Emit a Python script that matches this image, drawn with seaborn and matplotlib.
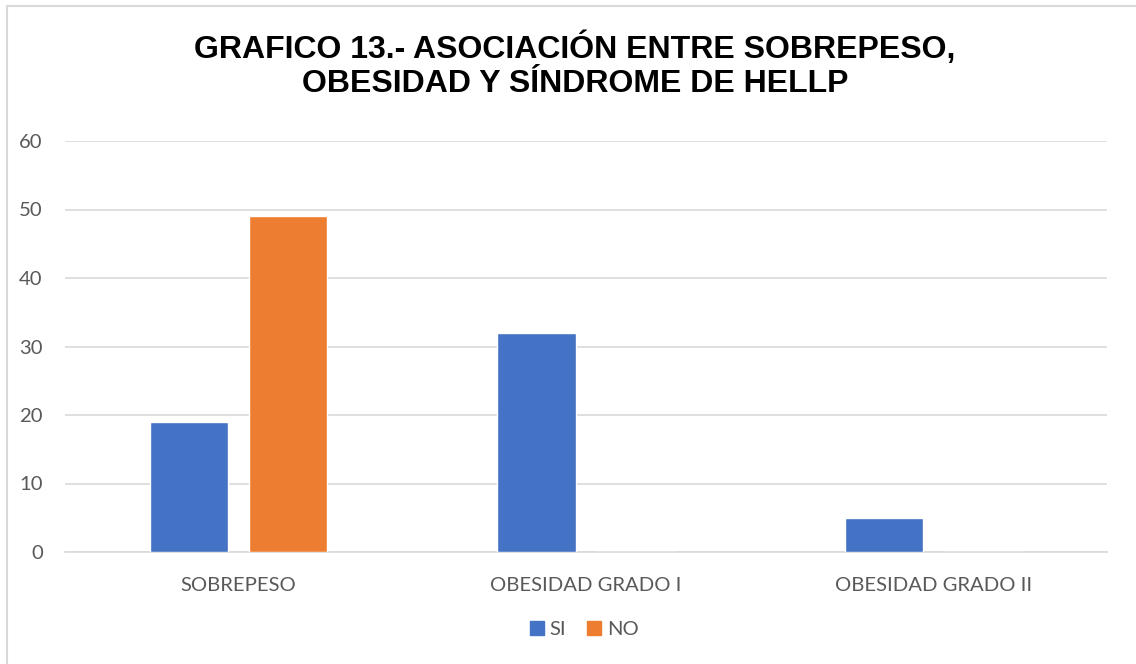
import matplotlib
matplotlib.use("Agg")
import matplotlib.pyplot as plt
import seaborn as sns
import pandas as pd
from matplotlib.lines import Line2D

categories = ["SOBREPESO", "OBESIDAD GRADO I", "OBESIDAD GRADO II"]
series_names = ["SI", "NO"]
si_values = [19, 32, 5]
no_values = [49, 0, 0]
y_ticks = [0, 10, 20, 30, 40, 50, 60]
title = "GRAFICO 13.- ASOCIACIÓN ENTRE SOBREPESO,\nOBESIDAD Y SÍNDROME DE HELLP"

colors = {"SI": "#4472C4", "NO": "#ED7D31"}

df = pd.DataFrame({
    "cat": categories * 2,
    "serie": ["SI"] * len(categories) + ["NO"] * len(categories),
    "val": si_values + no_values,
})

sns.set_theme(style="white")
plt.rcParams["font.family"] = ["Lato", "DejaVu Sans"]

fig = plt.figure(figsize=(11.36, 6.64), dpi=100)
ax = fig.add_axes([65 / 1136, 112 / 664, 1042 / 1136, 411 / 664])

sns.barplot(data=df, x="cat", y="val", hue="serie", hue_order=series_names,
            order=categories, palette=colors, width=0.57, gap=0.21,
            saturation=1, ax=ax, legend=False, zorder=3)

ax.set_ylim(0, 60)
ax.set_yticks(y_ticks)
ax.set_xlim(-0.5, 2.5)
ax.yaxis.grid(True, color="#D9D9D9", linewidth=1.2, zorder=0)
ax.set_axisbelow(True)
for s in ["top", "right", "left"]:
    ax.spines[s].set_visible(False)
ax.spines["bottom"].set_color("#D9D9D9")
ax.spines["bottom"].set_linewidth(1.2)
ax.tick_params(axis="both", length=0, labelsize=14.6, colors="#595959")
ax.tick_params(axis="y", pad=16)
ax.tick_params(axis="x", pad=18)
ax.set_xlabel("")
ax.set_ylabel("")

fig.text(575 / 1136, 1 - 65 / 664, title, ha="center", va="center",
         fontsize=23, fontweight="bold", family=["Liberation Sans", "DejaVu Sans"],
         color="#000000", linespacing=1.18)

handles = [Line2D([], [], marker="s", linestyle="none", markersize=10,
                  markerfacecolor=colors[n], markeredgecolor=colors[n]) for n in series_names]
leg = fig.legend(handles, series_names, loc="center", bbox_to_anchor=(0.513, 1 - 629 / 664),
                 ncol=2, frameon=False, fontsize=14.6, handletextpad=0.1, columnspacing=0.9,
                 handlelength=1.0)
for t in leg.get_texts():
    t.set_color("#595959")

# chart border
fig.add_artist(Line2D([7 / 1136, 7 / 1136, 1.0], [0.0, 1 - 6 / 664, 1 - 6 / 664],
                      transform=fig.transFigure, color="#D9D9D9", linewidth=1.5))

fig.savefig("out.png", dpi=100, facecolor="white")
